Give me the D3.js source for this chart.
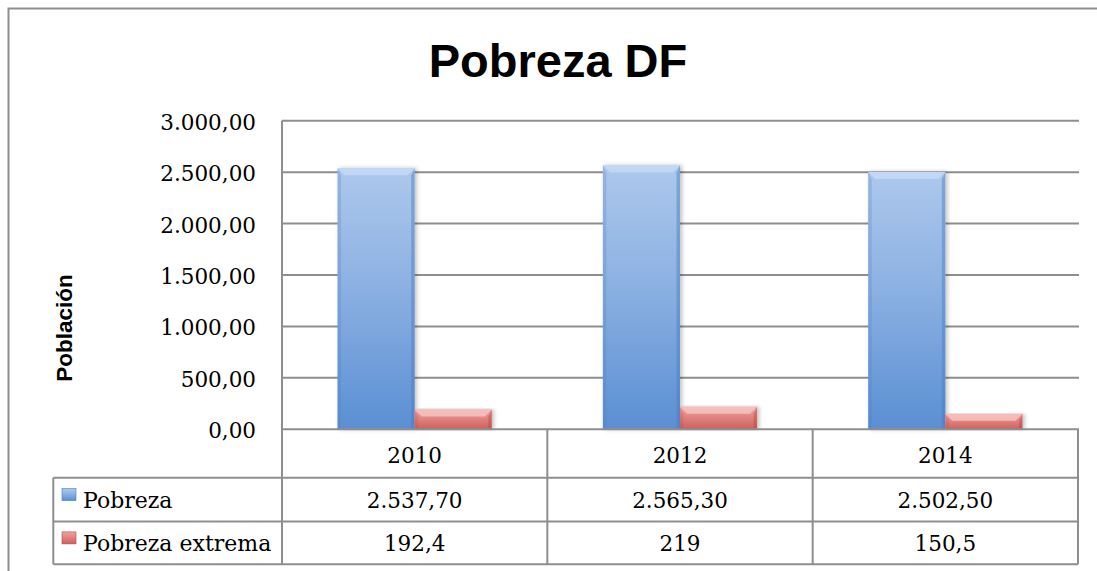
<!DOCTYPE html>
<html>
<head>
<meta charset="utf-8">
<script src="https://cdn.jsdelivr.net/npm/d3@7"></script>
<style>
  html, body { margin: 0; padding: 0; background: #fff; }
  svg { display: block; }
</style>
</head>
<body>
<svg id="chart" width="1097" height="571"></svg>
<script>
const categories = ["2010", "2012", "2014"];
const seriesNames = ["Pobreza", "Pobreza extrema"];
const pobreza = [2537.7, 2565.3, 2502.5];
const pobrezaExtrema = [192.4, 219, 150.5];
const yTicks = [0, 500, 1000, 1500, 2000, 2500, 3000];
const title = "Pobreza DF";
const yTitle = "Población";

const seriesValues = [pobreza, pobrezaExtrema];

const svg = d3.select("#chart");
const locale = d3.formatLocale({ decimal: ",", thousands: ".", grouping: [3], currency: ["$", ""] });
const fmtTick = locale.format(",.2f");
const fmtTable = [locale.format(",.2f"), locale.format("~f")];

const lineColor = "#8e8e8e";
const serif = "'DejaVu Serif', serif";
const sans = "'Liberation Sans', Arial, sans-serif";

const plotLeft = 282, plotRight = 1079, tableRight = 1078;
const y = d3.scaleLinear().domain([0, 3000]).range([429.3, 120.7]);
const x = d3.scaleBand().domain(categories).range([plotLeft, tableRight]).paddingInner(0).paddingOuter(0);
const xs = d3.scaleBand().domain(seriesNames).range([0, x.bandwidth()]).paddingInner(0).paddingOuter(0.72);

// defs
const defs = svg.append("defs");
const grads = [
  { id: "gBlue", stops: [["0%", "#adc8ec"], ["45%", "#8cb1e2"], ["100%", "#5a8fd3"]] },
  { id: "gRed", stops: [["0%", "#eea4a1"], ["100%", "#cf5e5a"]] },
];
grads.forEach(g => {
  const lg = defs.append("linearGradient").attr("id", g.id).attr("x1", 0).attr("y1", 0).attr("x2", 0).attr("y2", 1);
  g.stops.forEach(s => lg.append("stop").attr("offset", s[0]).attr("stop-color", s[1]));
});
const f = defs.append("filter").attr("id", "shadow").attr("x", "-20%").attr("y", "-5%").attr("width", "140%").attr("height", "110%");
f.append("feDropShadow").attr("dx", 2).attr("dy", 0).attr("stdDeviation", 2).attr("flood-color", "#000").attr("flood-opacity", 0.25);

// outer frame
svg.append("rect").attr("x", 8.5).attr("y", 8.5).attr("width", 1200).attr("height", 700)
  .attr("fill", "none").attr("stroke", lineColor).attr("stroke-width", 2);

// title
svg.append("text").attr("x", 558).attr("y", 77).attr("text-anchor", "middle")
  .attr("font-family", sans).attr("font-weight", "bold").attr("font-size", 47).attr("fill", "#000").text(title);

// y title
svg.append("text").attr("transform", "translate(72,328) rotate(-90)").attr("text-anchor", "middle")
  .attr("font-family", sans).attr("font-weight", "bold").attr("font-size", 22.5).attr("fill", "#000").text(yTitle);

// gridlines
svg.append("g").selectAll("line").data(yTicks.filter(d => d > 0)).join("line")
  .attr("x1", plotLeft).attr("x2", plotRight).attr("y1", d => y(d)).attr("y2", d => y(d))
  .attr("stroke", lineColor).attr("stroke-width", 2);

// y tick labels
svg.append("g").selectAll("text").data(yTicks).join("text")
  .attr("x", 256).attr("y", d => y(d) + 9).attr("text-anchor", "end")
  .attr("font-family", serif).attr("font-size", 21.5).attr("fill", "#000").text(d => fmtTick(d));

// bars
const fills = ["url(#gBlue)", "url(#gRed)"];
const bevelTop = ["#c4d9f4", "#f5c3c1"];
const bevelSide = ["#4a7cc0", "#b84a46"];
const barG = svg.append("g");
categories.forEach((c, i) => {
  seriesNames.forEach((s, j) => {
    const v = seriesValues[j][i];
    const bx = x(c) + xs(s), bw = xs.bandwidth();
    const by = y(v), by0 = y(0), bh = by0 - by;
    const b = Math.min(7, bh / 2);
    const g = barG.append("g");
    g.append("rect").attr("x", bx).attr("y", by).attr("width", bw).attr("height", bh)
      .attr("fill", fills[j]).attr("filter", "url(#shadow)");
    g.append("polygon").attr("points", [[bx, by], [bx + bw, by], [bx + bw - b, by + b], [bx + b, by + b]].map(p => p.join(",")).join(" "))
      .attr("fill", bevelTop[j]).attr("opacity", 0.85);
    g.append("polygon").attr("points", [[bx, by], [bx + b * 0.5, by + b], [bx + b * 0.5, by0], [bx, by0]].map(p => p.join(",")).join(" "))
      .attr("fill", bevelSide[j]).attr("opacity", 0.25);
    g.append("polygon").attr("points", [[bx + bw, by], [bx + bw - b * 0.5, by + b], [bx + bw - b * 0.5, by0], [bx + bw, by0]].map(p => p.join(",")).join(" "))
      .attr("fill", bevelSide[j]).attr("opacity", 0.45);
  });
});

// table
const rowY = [429.3, 477.7, 521.5, 564.3];
const tableLeft = 53.3;
const tg = svg.append("g").attr("stroke", lineColor).attr("stroke-width", 2).attr("fill", "none");
tg.append("line").attr("x1", plotLeft).attr("x2", plotRight).attr("y1", y(0)).attr("y2", y(0));
[rowY[1], rowY[2], rowY[3]].forEach(ry => tg.append("line").attr("x1", tableLeft).attr("x2", tableRight).attr("y1", ry).attr("y2", ry));
tg.append("line").attr("x1", plotLeft).attr("x2", plotLeft).attr("y1", y(3000)).attr("y2", rowY[3]);
tg.append("line").attr("x1", tableLeft).attr("x2", tableLeft).attr("y1", rowY[1]).attr("y2", rowY[3]);
categories.forEach(c => {
  tg.append("line").attr("x1", x(c) + x.bandwidth()).attr("x2", x(c) + x.bandwidth()).attr("y1", rowY[0]).attr("y2", rowY[3]);
});

const txt = svg.append("g").attr("font-family", serif).attr("font-size", 21.5).attr("fill", "#000");
categories.forEach((c, i) => {
  const cx = x(c) + x.bandwidth() / 2;
  txt.append("text").attr("x", cx).attr("y", (rowY[0] + rowY[1]) / 2 + 9).attr("text-anchor", "middle").text(c);
  seriesValues.forEach((vals, j) => {
    txt.append("text").attr("x", cx).attr("y", (rowY[j + 1] + rowY[j + 2]) / 2 + 8).attr("text-anchor", "middle").text(fmtTable[j](vals[i]));
  });
});
seriesNames.forEach((s, j) => {
  const cy = (rowY[j + 1] + rowY[j + 2]) / 2;
  svg.append("rect").attr("x", 62).attr("y", cy - 11).attr("width", 14).attr("height", 12)
    .attr("fill", fills[j]).attr("stroke", bevelSide[j]).attr("stroke-width", 0.6);
  txt.append("text").attr("x", 83).attr("y", cy + 8).attr("font-size", 22).text(s);
});
</script>
</body>
</html>
